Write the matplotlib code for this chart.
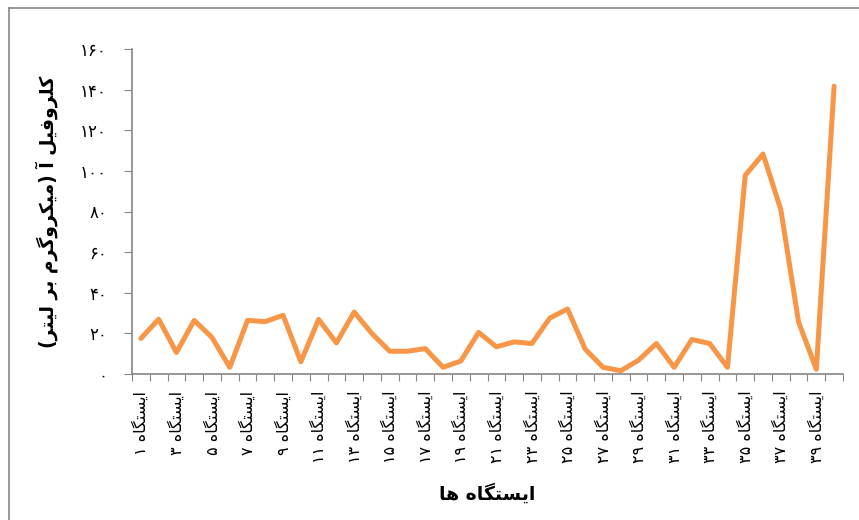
import numpy as np
import matplotlib.pyplot as plt
from matplotlib.lines import Line2D

# شکل‌های نمایشی حروف: (جدا، پایانی، آغازی، میانی) - حروف راست‌پیوند فقط دو شکل دارند
FORMS = {
    'ا': ('\uFE8D', '\uFE8E'),
    'آ': ('\uFE81', '\uFE82'),
    'ر': ('\uFEAD', '\uFEAE'),
    'و': ('\uFEED', '\uFEEE'),
    'ب': ('\uFE8F', '\uFE90', '\uFE91', '\uFE92'),
    'ت': ('\uFE95', '\uFE96', '\uFE97', '\uFE98'),
    'س': ('\uFEB1', '\uFEB2', '\uFEB3', '\uFEB4'),
    'ف': ('\uFED1', '\uFED2', '\uFED3', '\uFED4'),
    'ک': ('\uFB8E', '\uFB8F', '\uFB90', '\uFB91'),
    'گ': ('\uFB92', '\uFB93', '\uFB94', '\uFB95'),
    'ل': ('\uFEDD', '\uFEDE', '\uFEDF', '\uFEE0'),
    'م': ('\uFEE1', '\uFEE2', '\uFEE3', '\uFEE4'),
    'ه': ('\uFEE9', '\uFEEA', '\uFEEB', '\uFEEC'),
    'ی': ('\uFBFC', '\uFBFD', '\uFBFE', '\uFBFF'),
}
MIRROR = {'(': ')', ')': '('}
FA_DIGITS = '۰۱۲۳۴۵۶۷۸۹'


def shape_word(w):
    out = []
    for i, ch in enumerate(w):
        f = FORMS[ch]
        prev = w[i - 1] if i > 0 else None
        nxt = w[i + 1] if i + 1 < len(w) else None
        join_prev = prev is not None and len(FORMS[prev]) == 4
        join_next = nxt is not None and len(f) == 4
        if join_prev and join_next:
            out.append(f[3])
        elif join_prev:
            out.append(f[1])
        elif join_next:
            out.append(f[2])
        else:
            out.append(f[0])
    return out


def fa(text):
    # شکل‌دهی و برگرداندن ترتیب برای نمایش چپ به راست
    tokens = []
    buf = ''
    for ch in text:
        if ch in FORMS:
            buf += ch
        else:
            if buf:
                tokens.append(('w', buf))
                buf = ''
            tokens.append(('c', ch))
    if buf:
        tokens.append(('w', buf))
    vis = []
    for kind, t in tokens:
        if kind == 'w':
            vis.append(''.join(reversed(shape_word(t))))
        elif t in FA_DIGITS:
            vis.append(t)
        else:
            vis.append(MIRROR.get(t, t))
    # ادغام ارقام پشت سر هم تا ترتیبشان حفظ شود
    merged = []
    for v in vis:
        if merged and v and v[0] in FA_DIGITS and merged[-1] and merged[-1][-1] in FA_DIGITS:
            merged[-1] += v
        else:
            merged.append(v)
    return ''.join(reversed(merged))


def fa_num(n):
    return ''.join(FA_DIGITS[int(d)] for d in str(n))


# داده‌ها
stations = list(range(1, 41))
chl_a = [17.5, 27, 10.6, 26.4, 18, 3.3, 26.4, 25.8, 28.9, 6,
         26.9, 15.3, 30.5, 19.9, 11.2, 11.2, 12.5, 3.3, 6.4, 20.5,
         13.4, 15.8, 15, 27.5, 32, 12.2, 3.3, 1.6, 6.8, 15,
         3.3, 17, 15, 3.3, 97.8, 108.3, 81, 25.6, 2.3, 141.7]
y_ticks = [0, 20, 40, 60, 80, 100, 120, 140, 160]

plt.rcParams['font.family'] = ['DejaVu Sans']

fig = plt.figure(figsize=(8.59, 5.20), dpi=100)
ax = fig.add_axes([132 / 859, 1 - 374 / 520, (843 - 132) / 859, (374 - 49) / 520])

x = np.arange(len(stations))
ax.plot(x, chl_a, color='#F79646', linewidth=3.6, solid_joinstyle='round', solid_capstyle='round')

ax.set_xlim(-0.5, len(stations) - 0.5)
ax.set_ylim(0, 160)

ax.set_yticks(y_ticks)
ax.set_yticklabels([fa_num(v) for v in y_ticks], fontsize=12)

# خطوط تیک بین دسته‌ها، برچسب‌ها در مرکز دسته‌ها
ax.set_xticks(np.arange(-0.5, len(stations), 1.0))
ax.set_xticklabels([])
ax.set_xticks(x[::2], minor=True)
ax.set_xticklabels([fa('ایستگاه ' + fa_num(s)) for s in stations[::2]],
                   minor=True, rotation=90, fontsize=11.5)
ax.tick_params(axis='x', which='major', length=5, color='#868686')
ax.tick_params(axis='x', which='minor', length=0, pad=12)
ax.tick_params(axis='y', length=6, color='#868686', pad=12)

for s in ['top', 'right']:
    ax.spines[s].set_visible(False)
for s in ['left', 'bottom']:
    ax.spines[s].set_color('#868686')
    ax.spines[s].set_linewidth(1.2)

ax.set_ylabel(fa('کلروفیل آ (میکروگرم بر لیتر)'), fontsize=13.5, fontweight='bold', labelpad=16)
ax.set_xlabel(fa('ایستگاه ها'), fontsize=13.5, fontweight='bold', labelpad=14)

# کادر دور نمودار
fig.add_artist(Line2D([9 / 859, 9 / 859], [0, 1 - 8 / 520], color='#868686', lw=1.2))
fig.add_artist(Line2D([9 / 859, 1], [1 - 8 / 520, 1 - 8 / 520], color='#868686', lw=1.2))

fig.savefig('out.png', dpi=100)
